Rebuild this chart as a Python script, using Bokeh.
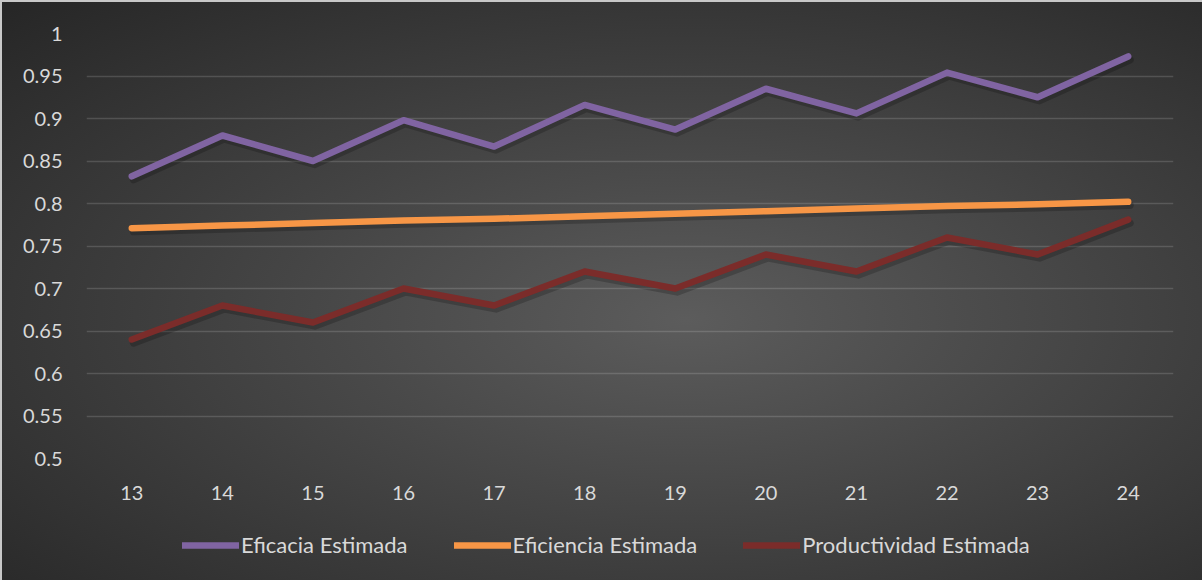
from bokeh.plotting import figure
from bokeh.models import Legend, LegendItem, FixedTicker
from bokeh.layouts import column
from bokeh.embed import file_html
from bokeh.resources import INLINE

# ---- data ----
semanas = [13, 14, 15, 16, 17, 18, 19, 20, 21, 22, 23, 24]
eficacia = [0.832, 0.880, 0.850, 0.898, 0.867, 0.916, 0.887, 0.935, 0.906, 0.954, 0.925, 0.973]
eficiencia = [0.771, 0.774, 0.777, 0.780, 0.782, 0.785, 0.788, 0.791, 0.794, 0.797, 0.799, 0.802]
productividad = [0.640, 0.680, 0.660, 0.700, 0.680, 0.720, 0.700, 0.740, 0.720, 0.760, 0.740, 0.781]
series_names = ["Eficacia Estimada", "Eficiencia Estimada", "Productividad Estimada"]
series_colors = ["#8064A2", "#F79646", "#7B2C2A"]
y_ticks = [0.5, 0.55, 0.6, 0.65, 0.7, 0.75, 0.8, 0.85, 0.9, 0.95, 1.0]
y_tick_labels = ["0.5", "0.55", "0.6", "0.65", "0.7", "0.75", "0.8", "0.85", "0.9", "0.95", "1"]

FONT = "Lato"
TXT = "#d9d9d9"
series = (eficacia, eficiencia, productividad)

# ---- main chart ----
p = figure(width=1200, height=500, output_backend="svg", toolbar_location=None,
           x_range=(12.5, 24.5), y_range=(0.5, 1.0),
           min_border_left=84, min_border_right=29, min_border_top=31, min_border_bottom=44)
p.background_fill_alpha = 0
p.border_fill_alpha = 0
p.outline_line_color = None

# soft shadows under the lines
for ys in series:
    p.line([x + 0.02 for x in semanas], [v - 0.004 for v in ys], line_width=7.5,
           line_color="black", line_alpha=0.2, line_cap="round", line_join="round")

for ys, c in zip(series, series_colors):
    p.line(semanas, ys, line_width=6.5, line_color=c, line_cap="round", line_join="round")

p.xaxis.ticker = FixedTicker(ticks=semanas)
p.yaxis.ticker = FixedTicker(ticks=y_ticks)
p.yaxis.major_label_overrides = {t: l for t, l in zip(y_ticks, y_tick_labels)}
for ax in (p.xaxis[0], p.yaxis[0]):
    ax.axis_line_color = None
    ax.major_tick_line_color = None
    ax.minor_tick_line_color = None
    ax.major_label_text_color = TXT
    ax.major_label_text_font = FONT
    ax.major_label_text_font_size = "20px"
p.xaxis.major_label_standoff = 21
p.yaxis.major_label_standoff = 18

p.xgrid.grid_line_color = None
p.ygrid.grid_line_color = "white"
p.ygrid.grid_line_alpha = 0.15
p.ygrid.grid_line_width = 1.5

# ---- legend strip ----
pl = figure(width=1200, height=78, output_backend="svg", toolbar_location=None,
            x_range=(0, 1), y_range=(0, 1), min_border=0)
pl.background_fill_alpha = 0
pl.border_fill_alpha = 0
pl.outline_line_color = None
pl.axis.visible = False
pl.grid.visible = False
leg_renderers = []
for ys, c in zip(series, series_colors):
    # same series, out of this strip's view: only their legend swatches show
    leg_renderers.append(pl.line(semanas, ys, line_width=6.5, line_color=c, line_cap="round"))

legend = Legend(items=[LegendItem(label=n, renderers=[r]) for n, r in zip(series_names, leg_renderers)],
                orientation="horizontal", location=(96, 22),
                glyph_width=57, glyph_height=20, label_standoff=2, spacing=46,
                padding=0, margin=0, background_fill_alpha=0, border_line_color=None,
                label_text_color=TXT, label_text_font=FONT, label_text_font_size="22px")
pl.add_layout(legend, "center")

layout = column(p, pl, spacing=0)
layout.styles = {
    "background": "radial-gradient(ellipse farthest-corner at 57% 55%, #5c5c5c 0%, #3e3e3e 55%, #262626 100%)",
    "border-top": "2px solid #c8c8c8",
    "border-left": "2px solid #c8c8c8",
}

open("out.html", "w").write(file_html(layout, INLINE))
